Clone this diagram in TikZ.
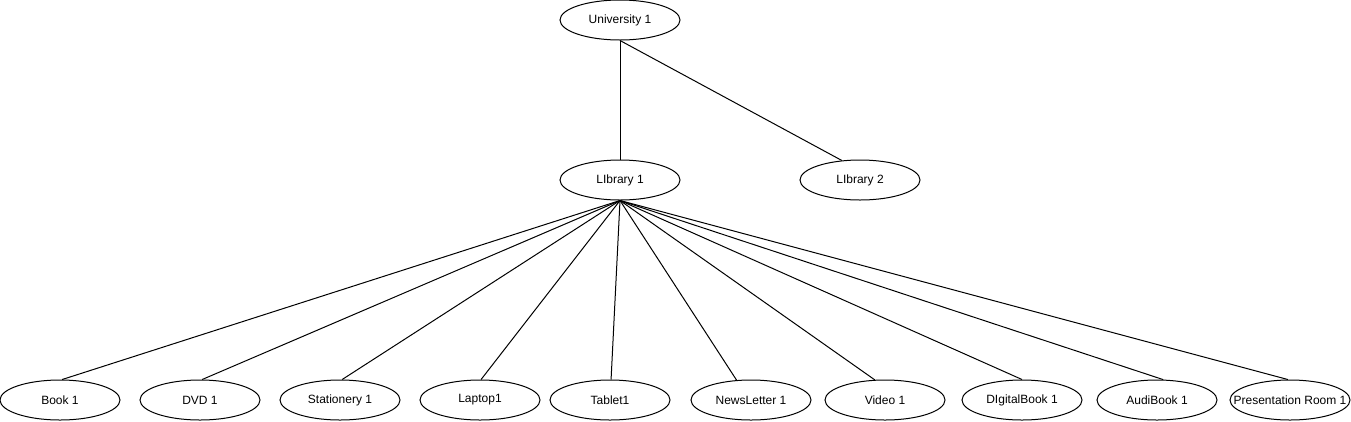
\documentclass[tikz,border=0pt]{standalone}
\usepackage{fontspec}
\setmainfont{Liberation Sans}
\usepackage{tikz}
\usetikzlibrary{shapes.geometric}
\newcommand{\ovaltext}[1]{\makebox[0pt]{#1}}
\tikzset{
    oval/.style={ellipse, draw, line width=1pt, minimum width=120pt, minimum height=40pt, inner sep=0pt, font=\fontsize{12}{14}\selectfont},
    link/.style={line width=1pt}
}

\begin{document}
\begin{tikzpicture}[x=1pt,y=-1pt]
    \useasboundingbox (0,0) rectangle (1351,421);
    %University
    \node[oval] (uni) at (620,20) {\ovaltext{University 1}};
    %Libraries
    \node[oval] (lib1) at (620,180) {\ovaltext{LIbrary 1}};
    \node[oval] (lib2) at (860,180) {\ovaltext{LIbrary 2}};
    %Items
    \node[oval] (book) at (60,400) {\ovaltext{Book 1}};
    \node[oval] (dvd) at (200,400) {\ovaltext{DVD 1}};
    \node[oval] (stationery) at (340,400) {\ovaltext{Stationery 1}};
    \node[oval] (laptop) at (480,400) {\ovaltext{Laptop1}};
    \node[oval] (tablet) at (610,400) {\ovaltext{Tablet1}};
    \node[oval] (newsletter) at (751,400) {\ovaltext{NewsLetter 1}};
    \node[oval] (video) at (885,400) {\ovaltext{Video 1}};
    \node[oval] (digitalbook) at (1022,400) {\ovaltext{DIgitalBook 1}};
    \node[oval] (audibook) at (1157,400) {\ovaltext{AudiBook 1}};
    \node[oval] (room) at (1290,400) {\ovaltext{Presentation Room 1}};
    %Links
    \draw[link] (uni.south) -- (lib1.north);
    \draw[link] (uni.south) -- (lib2.133);
    \draw[link] (lib1.south) -- (book.84);
    \draw[link] (lib1.south) -- (dvd.84);
    \draw[link] (lib1.south) -- (stationery.84);
    \draw[link] (lib1.south) -- (laptop.87);
    \draw[link] (lib1.south) -- (tablet.87);
    \draw[link] (lib1.south) -- (newsletter.126);
    \draw[link] (lib1.south) -- (video.117);
    \draw[link] (lib1.south) -- (digitalbook.north);
    \draw[link] (lib1.south) -- (audibook.73);
    \draw[link] (lib1.south) -- (room.96);
\end{tikzpicture}
\end{document}
